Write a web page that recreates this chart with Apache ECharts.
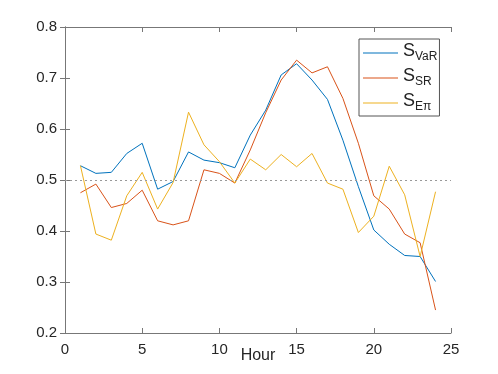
<!DOCTYPE html>
<html>
<head>
<meta charset="utf-8">
<script src="https://cdn.jsdelivr.net/npm/echarts@6/dist/echarts.min.js"></script>
<style>html,body{margin:0;padding:0;background:#fff;}#c{width:498px;height:374px;}</style>
</head>
<body>
<div id="c"></div>
<script>
const hours = [1,2,3,4,5,6,7,8,9,10,11,12,13,14,15,16,17,18,19,20,21,22,23,24];
const sVaR = [0.528,0.513,0.515,0.552,0.572,0.482,0.497,0.555,0.539,0.534,0.524,0.588,0.637,0.706,0.728,0.696,0.658,0.578,0.487,0.402,0.374,0.352,0.350,0.301];
const sSR  = [0.475,0.492,0.446,0.454,0.480,0.420,0.412,0.420,0.520,0.513,0.494,0.559,0.632,0.696,0.735,0.710,0.722,0.660,0.572,0.469,0.443,0.394,0.377,0.245];
const sEpi = [0.528,0.394,0.382,0.469,0.515,0.443,0.495,0.633,0.569,0.536,0.494,0.541,0.520,0.550,0.526,0.552,0.494,0.482,0.397,0.429,0.527,0.471,0.350,0.477];
const seriesNames = ['S_VaR','S_SR','S_Eπ'];
const subLabels = ['VaR','SR','Eπ'];
const threshold = 0.497;
const xTicks = [0,5,10,15,20,25];
const yTicks = [0.2,0.3,0.4,0.5,0.6,0.7,0.8];

const colors = ['#0072BD','#D95319','#EDB120'];
const axisCol = '#777';
const font = 'Liberation Sans, Helvetica, Arial, sans-serif';
const values = [sVaR, sSR, sEpi];

const chart = echarts.init(document.getElementById('c'), null, {renderer:'canvas'});
const series = values.map((v,i)=>({
  name: seriesNames[i],
  type: 'line',
  data: hours.map((h,j)=>[h, v[j]]),
  symbol: 'none',
  showSymbol: false,
  lineStyle: {color: colors[i], width: 1},
  itemStyle: {color: colors[i]},
  animation: false,
  z: 3
}));
series[0].markLine = {
  silent: true,
  symbol: 'none',
  label: {show: false},
  lineStyle: {color: '#999', type: [2,3], width: 1.2},
  data: [{yAxis: threshold}],
  animation: false
};

const axisCommon = {
  axisLine: {show: true, lineStyle: {color: axisCol, width: 1}},
  axisTick: {show: true, inside: true, length: 5, lineStyle: {color: axisCol}},
  splitLine: {show: false}
};

chart.setOption({
  backgroundColor: '#fff',
  animation: false,
  grid: {left: 65, right: 47, top: 27, bottom: 41, outerBoundsMode: 'none', containLabel: false},
  legend: {
    orient: 'vertical',
    left: 359, top: 39,
    padding: [3, 2, 3, 4],
    itemGap: 4,
    itemWidth: 35,
    itemHeight: 1.2,
    icon: 'rect',
    borderColor: '#555',
    borderWidth: 1,
    backgroundColor: '#fff',
    data: seriesNames,
    formatter: function(name){
      const i = seriesNames.indexOf(name);
      return '{s|S}{sub|' + subLabels[i] + '}';
    },
    textStyle: {
      fontFamily: font,
      color: '#222',
      rich: {
        s: {fontSize: 18, fontFamily: font, color: '#222', lineHeight: 22, verticalAlign: 'top'},
        sub: {fontSize: 12, fontFamily: font, color: '#222', lineHeight: 22, padding: [9,0,0,0], verticalAlign: 'top'}
      }
    }
  },
  xAxis: [
    Object.assign({
      type: 'value', min: 0, max: 25, interval: 5, position: 'bottom',
      name: 'Hour', nameLocation: 'middle', nameGap: 15, nameMoveOverlap: false,
      nameTextStyle: {fontSize: 16, fontFamily: font, color: '#262626', verticalAlign: 'top'},
      axisLabel: {fontSize: 15, fontFamily: font, color: '#262626', margin: 9,
        formatter: v => xTicks.includes(v) ? String(v) : ''}
    }, axisCommon),
    Object.assign({
      type: 'value', min: 0, max: 25, interval: 5, position: 'top',
      axisLabel: {show: false}
    }, axisCommon)
  ],
  yAxis: [
    Object.assign({
      type: 'value', min: 0.2, max: 0.8, interval: 0.1, position: 'left',
      axisLabel: {fontSize: 15, fontFamily: font, color: '#262626', margin: 8,
        formatter: v => v.toFixed(1)}
    }, axisCommon),
    Object.assign({
      type: 'value', min: 0.2, max: 0.8, interval: 0.1, position: 'right',
      axisLabel: {show: false}
    }, axisCommon)
  ],
  series: series
});
</script>
</body>
</html>
